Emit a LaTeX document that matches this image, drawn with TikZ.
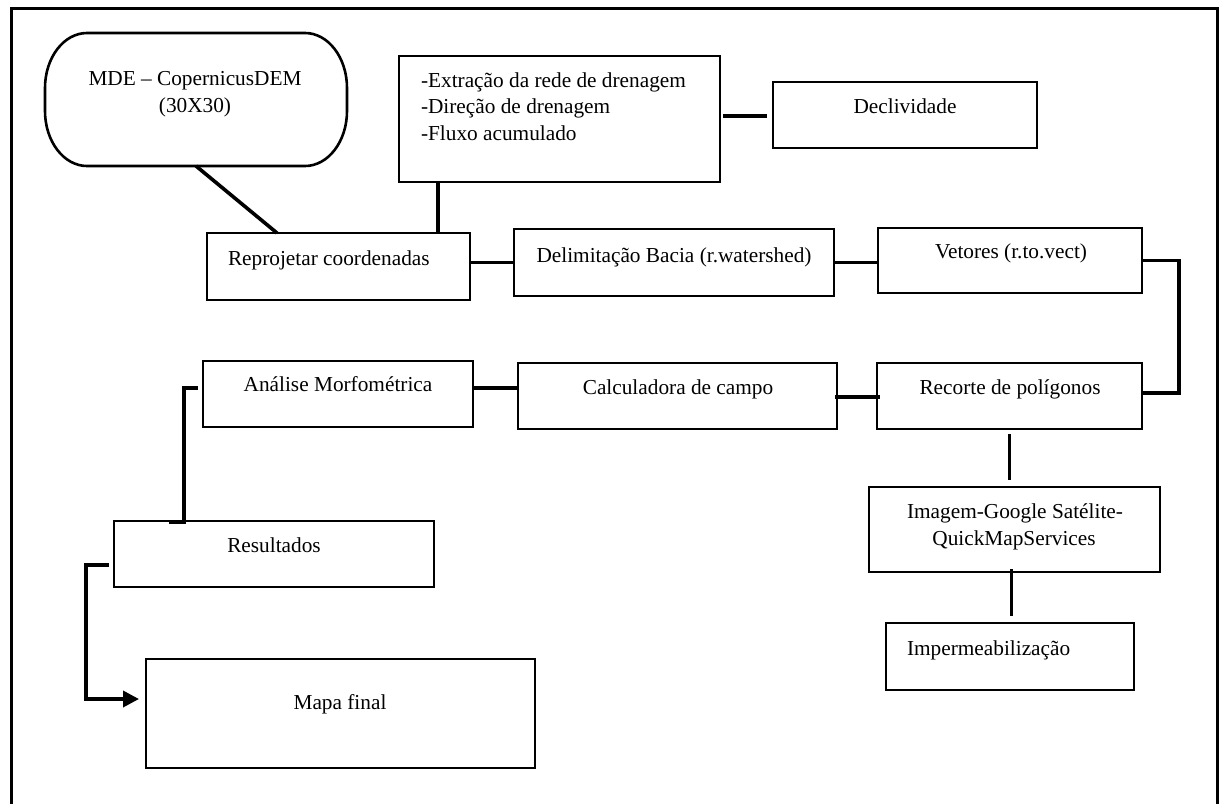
\documentclass[tikz,border=0pt]{standalone}
\usepackage{fontspec}
\setmainfont{Liberation Serif}
\usetikzlibrary{calc,arrows.meta}
\tikzset{
  boxnode/.style={draw, line width=1.3pt, rectangle, inner sep=0pt, outer sep=0pt},
  plainnode/.style={rectangle, inner sep=0pt, outer sep=0pt},
  txt/.style={inner sep=0pt, outer sep=0pt, anchor=base, font=\fontsize{10.65}{13.3}\selectfont},
  txtw/.style={txt, anchor=base west},
  conn/.style={line width=1.8pt},
  framestyle/.style={line width=1.5pt}
}
\begin{document}
\begin{tikzpicture}[x=0.5pt,y=-0.5pt]
\useasboundingbox (0,0) rectangle (1219,803);
\fill[white] (0,0) rectangle (1219,803);
% frame
\draw[framestyle] (11,820) -- (11,8) -- (1217,8) -- (1217,820);

% boxes
\node[plainnode, minimum width=151pt, minimum height=66.5pt] (mde) at (196,99.5) {};
\draw[line width=1.3pt] ($(mde.north west)+(42,0)$) -- ($(mde.north east)+(-42,0)$)
  arc[start angle=90,end angle=0,x radius=21pt,y radius=27.5pt]
  -- ($(mde.south east)+(0,-55)$)
  arc[start angle=0,end angle=-90,x radius=21pt,y radius=27.5pt]
  -- ($(mde.south west)+(42,0)$)
  arc[start angle=270,end angle=180,x radius=21pt,y radius=27.5pt]
  -- ($(mde.north west)+(0,55)$)
  arc[start angle=180,end angle=90,x radius=21pt,y radius=27.5pt]
  -- cycle;
\node[boxnode, minimum width=131.5pt, minimum height=33.5pt] (rep) at (338.5,266.5) {};
\node[boxnode, minimum width=160.5pt, minimum height=63pt] (extr) at (559.5,119) {};
\node[boxnode, minimum width=132pt, minimum height=33pt] (decl) at (905,115) {};
\node[boxnode, minimum width=160pt, minimum height=33.5pt] (delim) at (674,262.5) {};
\node[boxnode, minimum width=132pt, minimum height=32.5pt] (vet) at (1010,260.5) {};
\node[boxnode, minimum width=132.5pt, minimum height=33pt] (rec) at (1009.5,396) {};
\node[boxnode, minimum width=145.5pt, minimum height=42.5pt] (img) at (1014.5,529.5) {};
\node[boxnode, minimum width=124pt, minimum height=33.5pt] (imp) at (1010,656.5) {};
\node[boxnode, minimum width=135pt, minimum height=33pt] (an) at (338,394) {};
\node[boxnode, minimum width=159.5pt, minimum height=33pt] (calc) at (677.5,396) {};
\node[boxnode, minimum width=160pt, minimum height=33pt] (res) at (274,554) {};
\node[boxnode, minimum width=194.5pt, minimum height=54.5pt] (mapa) at (340.5,713.5) {};

% texts
\node[txt] (t1) at (195,85) {MDE – CopernicusDEM};
\node[txt] (t2) at (195,112) {(30X30)};
\node[txtw] (t3) at (228,265) {Reprojetar coordenadas};
\node[txtw] (t4) at (421,87) {-Extração da rede de drenagem};
\node[txtw] (t5) at (421,113) {-Direção de drenagem};
\node[txtw] (t6) at (421,140) {-Fluxo acumulado};
\node[txt] (t7) at (905,113) {Declividade};
\node[txt] (t8) at (674,262) {Delimitação Bacia (r.watershed)};
\node[txt] (t9) at (1011,258) {Vetores (r.to.vect)};
\node[txt] (t10) at (1010,394) {Recorte de polígonos};
\node[txt] (t11) at (1015,518) {Imagem-Google Satélite-};
\node[txt] (t12) at (1014,545) {QuickMapServices};
\node[txtw] (t13) at (907,655) {Impermeabilização};
\node[txt] (t14) at (338,391) {Análise Morfométrica};
\node[txt] (t15) at (678,394) {Calculadora de campo};
\node[txt] (t16) at (274,552) {Resultados};
\node[txt] (t17) at (340,709) {Mapa final};

% connectors
\draw[conn] (mde.south) -- ($(rep.north west)+(70,0)$);
\draw[conn] ($(extr.south west)+(39,0)$) coordinate (ea) -- (ea |- rep.north);
\draw[conn] ($(extr.east |- decl.west)+(3,1)$) -- ($(decl.west)+(-6,1)$);
\draw[conn] (rep.east |- delim.west) -- (delim.west);
\draw[conn] (delim.east) -- (delim.east -| vet.west);
\draw[conn] (vet.east) -- ++(37,0) |- ($(rec.east)+(0,-3)$);
\draw[conn] ($(rec.south)+(0,5)$) -- ($(rec.south |- img.north)+(0,-7)$);
\draw[conn] ($(img.south)+(-3,-3)$) coordinate (ua) -- ($(ua |- imp.north)+(0,-7)$);
\draw[conn] ($(calc.east)+(-2,1)$) -- ($(calc.east -| rec.west)+(3,1)$);
\draw[conn] ($(an.east)+(0,-6)$) -- ($(an.east -| calc.west)+(0,-6)$);
\draw[conn] ($(an.west)+(-5,-6)$) -| ($(res.north west)+(70,1)$) -- ++(-15,0);
\draw[conn, -{Triangle[length=8pt,width=8pt]}] ($(res.west)+(-5,11)$) -- ++(-23,0) |- ($(mapa.west)+(-7,-14.5)$);
\end{tikzpicture}
\end{document}
